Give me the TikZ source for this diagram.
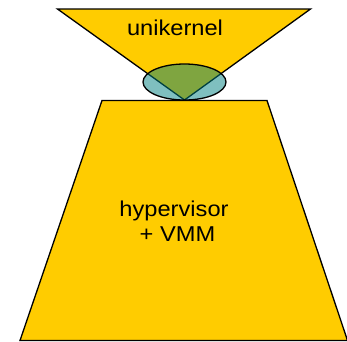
\documentclass[tikz,border=0pt]{standalone}
\usepackage{fontspec}
\setmainfont{Liberation Sans}
\definecolor{gold}{HTML}{FFCC00}
\definecolor{tealish}{HTML}{008080}
\begin{document}
\begin{tikzpicture}[x=1pt,y=-1pt,
  block/.style={fill=gold,draw=black,line width=1.3pt,line join=miter},
  lens/.style={fill=tealish,fill opacity=0.5,draw=black,line width=1.3pt},
  label/.style={anchor=base,inner sep=0pt,font=\fontsize{21.5}{24}\selectfont}]
\useasboundingbox (0,0) rectangle (347,341);
% lower block: hypervisor + VMM
\draw[block] (102,100.5) -- (267,100.5) -- (347.5,340.5) -- (20,340.5) -- cycle;
% upper wedge: unikernel
\draw[block] (57.5,9) -- (310.5,9) -- (184.5,100) -- cycle;
% interface between the two
\draw[lens] (184.5,82) ellipse [x radius=41.5, y radius=18];
\node[label] (uk) at (175,35.7) {\scalebox{1.1}[1]{unikernel}};
\node[label] (hv) at (174,216.7) {\scalebox{1.1}[1]{hypervisor}};
\node[label] (vmm) at (177.5,241) {\scalebox{1.1}[1]{+ VMM}};
\end{tikzpicture}
\end{document}
